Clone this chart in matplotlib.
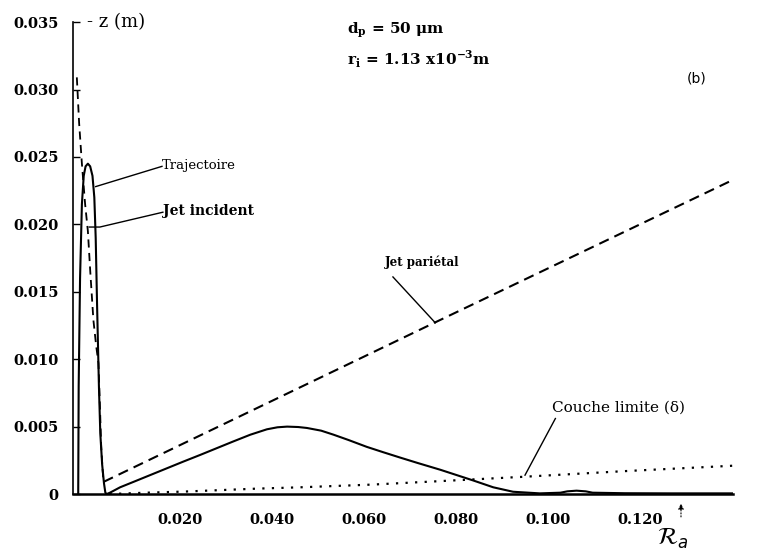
import matplotlib
matplotlib.use("Agg")
import matplotlib.pyplot as plt
import matplotlib.transforms as mtransforms

# --- data (r in m, -z in m) ---
traj_r = [0.0012, 0.0013, 0.0016, 0.0020, 0.0024, 0.0028, 0.0033, 0.0038, 0.0043,
          0.0047, 0.0050, 0.0053, 0.0057, 0.0060, 0.0064, 0.0068, 0.0071,
          0.0074, 0.0081, 0.0103, 0.0132, 0.0168, 0.0204, 0.0240, 0.0277,
          0.0313, 0.0349, 0.0386, 0.0422, 0.0445, 0.0466, 0.0490, 0.0509,
          0.0540, 0.0567, 0.0600, 0.0639, 0.0675, 0.0712, 0.0750, 0.0799,
          0.0835, 0.0871, 0.0914, 0.0957, 0.1015, 0.1060, 0.1075, 0.1095,
          0.1115, 0.1130, 0.1200, 0.1300, 0.1435]
traj_z = [0.0000, 0.0080, 0.0160, 0.0215, 0.0236, 0.0243, 0.0245, 0.0243, 0.0236,
          0.0220, 0.0190, 0.0140, 0.0080, 0.0045, 0.0022, 0.0008, 0.0001,
          0.0000, 0.0001, 0.0005, 0.0009, 0.0014, 0.0019, 0.0024, 0.0029,
          0.0034, 0.0039, 0.0044, 0.0048, 0.00495, 0.0050, 0.00497, 0.0049,
          0.0047, 0.0044, 0.0040, 0.0035, 0.0031, 0.0027, 0.0023, 0.0018,
          0.0014, 0.0010, 0.0005, 0.00017, 0.00005, 0.0001, 0.0002, 0.00025,
          0.0002, 0.0001, 0.00006, 0.00005, 0.00005]

jet_inc_r = [0.0009, 0.0014, 0.0020, 0.0027, 0.0033, 0.0038, 0.0045, 0.0051,
             0.0056, 0.0059, 0.0062, 0.0065, 0.0067]
jet_inc_z = [0.0309, 0.0275, 0.0245, 0.0215, 0.0195, 0.0166, 0.0129, 0.0110,
             0.0097, 0.0067, 0.0035, 0.0018, 0.0009]

jet_par_r = [0.0067, 0.0792, 0.1435]
jet_par_z = [0.0009, 0.0128, 0.0233]

delta_r = [0.0080, 0.0160, 0.0240, 0.0400, 0.0495, 0.0650, 0.0800, 0.0980, 0.1200, 0.1435]
delta_z = [0.0000, 0.0001, 0.00018, 0.0004, 0.0005, 0.0007, 0.00096, 0.00128, 0.0017, 0.0021]

x_ticks = [0.020, 0.040, 0.060, 0.080, 0.100, 0.120]
x_labels = ["0.020", "0.040", "0.060", "0.080", "0.100", "0.120"]
y_ticks = [0, 0.005, 0.010, 0.015, 0.020, 0.025, 0.030, 0.035]
y_labels = ["0", "0.005", "0.010", "0.015", "0.020", "0.025", "0.030", "0.035"]

r_a = 0.1322

serif = ["DejaVu Serif"]

fig = plt.figure(figsize=(7.58, 5.52), dpi=100)
ax = fig.add_axes([0.0959, 0.105, 0.8711, 0.855])

ax.plot(traj_r, traj_z, color="black", lw=1.5, solid_capstyle="round")
ax.plot(jet_inc_r, jet_inc_z, color="black", lw=1.3, ls=(0, (4.5, 3)))
ax.plot(jet_par_r, jet_par_z, color="black", lw=1.5, ls=(0, (5, 3)))
ax.plot(delta_r, delta_z, color="black", lw=1.6, ls=(0, (1, 3.3)))

ax.set_xlim(0, 0.1435)
ax.set_ylim(0, 0.035)
for s in ("top", "right"):
    ax.spines[s].set_visible(False)
ax.spines["left"].set_linewidth(1.2)
ax.spines["bottom"].set_linewidth(1.8)

ax.set_xticks(x_ticks)
ax.set_xticklabels(x_labels, fontfamily=serif, fontweight="bold", fontsize=10.5)
ax.set_yticks(y_ticks)
ax.set_yticklabels(y_labels, fontfamily=serif, fontweight="bold", fontsize=10.5)
ax.tick_params(axis="x", length=0, pad=14)
ax.tick_params(axis="y", direction="in", length=5, width=1, pad=10)

# labels in the scan sit a bit to the right of their true position
shift = mtransforms.ScaledTranslation(0.15, 0, fig.dpi_scale_trans)
for lab in ax.get_xticklabels():
    lab.set_transform(lab.get_transform() + shift)

ax.text(0.0031, 0.0350, "- z (m)", fontfamily=serif, fontsize=13, va="center")
ax.text(0.0596, 0.0344, r"d$_\mathregular{p}$ = 50 μm", fontfamily=serif,
        fontweight="bold", fontsize=11, va="center")
ax.text(0.0596, 0.0322, r"r$_\mathregular{i}$ = 1.13 x10$^\mathregular{-3}$m",
        fontfamily=serif, fontweight="bold", fontsize=11, va="center")
ax.text(0.1357, 0.0308, "(b)", fontsize=10, va="center", ha="center")

# leader lines with their labels
ax.plot([0.0194, 0.0050], [0.0243, 0.0228], color="black", lw=1)
ax.text(0.0194, 0.0244, "Trajectoire", fontfamily=serif, fontsize=9.5, va="center")
ax.plot([0.0196, 0.0059, 0.0036], [0.0209, 0.0198, 0.0198], color="black", lw=1)
ax.text(0.0196, 0.0210, "Jet incident", fontfamily=serif, fontweight="bold",
        fontsize=10, va="center")
ax.plot([0.0696, 0.0788], [0.0161, 0.0127], color="black", lw=1)
ax.text(0.0679, 0.0172, "Jet pariétal", fontfamily=serif, fontweight="bold",
        fontsize=8.5, va="center")
ax.plot([0.1049, 0.0983], [0.0056, 0.0014], color="black", lw=1)
ax.text(0.1042, 0.0064, "Couche limite (δ)", fontfamily=serif, fontsize=11,
        va="center")

# R_a marker below the axis
ax.annotate("", xy=(r_a, -0.0005), xytext=(r_a, -0.0019),
            arrowprops=dict(arrowstyle="-|>", color="black", lw=0.8, ls=":",
                            mutation_scale=8), annotation_clip=False)
ax.text(r_a - 0.0018, -0.0033, r"$\mathcal{R}_a$", fontsize=17, ha="center",
        va="center", clip_on=False)

fig.savefig("out.png", dpi=100)
